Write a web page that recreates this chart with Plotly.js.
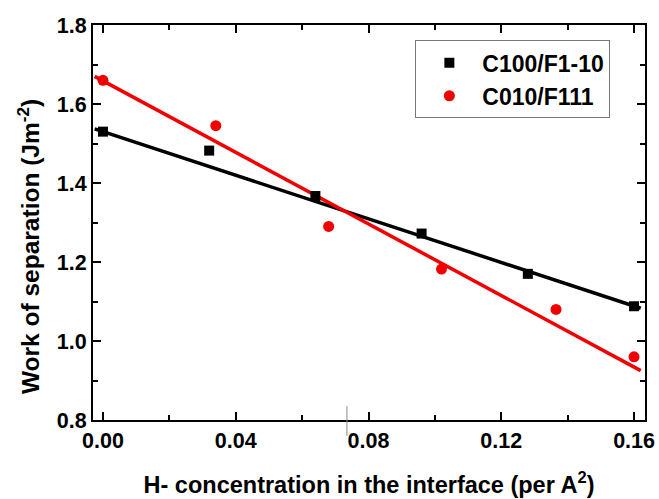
<!DOCTYPE html>
<html><head><meta charset="utf-8">
<script src="https://cdn.plot.ly/plotly-3.0.1.min.js"></script>
<style>html,body{margin:0;padding:0;background:#fff;}#chart{width:659px;height:499px;}</style>
</head><body><div id="chart"></div>
<script>
const hConc = [0.000, 0.032, 0.064, 0.096, 0.128, 0.160];
const c100Wsep = [1.530, 1.482, 1.367, 1.272, 1.170, 1.088];
const hConcRed = [0.000, 0.034, 0.068, 0.102, 0.1365, 0.160];
const c010Wsep = [1.660, 1.545, 1.290, 1.182, 1.080, 0.960];
const fitX = [-0.0025, 0.162];
const c100Fit = [1.537, 1.083];
const c010Fit = [1.670, 0.925];
const seriesNames = ['C100/F1-10', 'C010/F111'];
const xTicks = [0.00, 0.04, 0.08, 0.12, 0.16];
const xTickText = ['0.00', '0.04', '0.08', '0.12', '0.16'];
const yTicks = [0.8, 1.0, 1.2, 1.4, 1.6, 1.8];
const yTickText = ['0.8', '1.0', '1.2', '1.4', '1.6', '1.8'];
const xTitle = 'H- concentration in the interface (per A<sup>2</sup>)';
const yTitle = 'Work of separation (Jm<sup>-2</sup>)';

const FONT = 'Liberation Sans, Arial, sans-serif';
const traces = [
  {x: fitX, y: c100Fit, mode: 'lines', line: {color: '#000', width: 3.5}, showlegend: false, hoverinfo: 'skip'},
  {x: fitX, y: c010Fit, mode: 'lines', line: {color: '#f00000', width: 3.5}, showlegend: false, hoverinfo: 'skip'},
  {x: hConc, y: c100Wsep, mode: 'markers', name: seriesNames[0], marker: {symbol: 'square', size: 10, color: '#000'}},
  {x: hConcRed, y: c010Wsep, mode: 'markers', name: seriesNames[1], marker: {symbol: 'circle', size: 11, color: '#f00000'}}
];
const axisCommon = {
  showgrid: false, zeroline: false, showline: true, linecolor: '#000', linewidth: 2,
  mirror: 'allticks', ticks: 'inside', ticklen: 8, tickwidth: 2, tickcolor: '#000',
  tickfont: {family: FONT, size: 21.5, color: '#000', weight: 'bold'}
};
const layout = {
  width: 659, height: 499,
  margin: {l: 93, r: 14, t: 25, b: 79},
  paper_bgcolor: '#fff', plot_bgcolor: '#fff',
  showlegend: true,
  legend: {x: 0.584, y: 0.961, xanchor: 'left', yanchor: 'top', bordercolor: '#777', borderwidth: 1,
    font: {family: FONT, size: 23, color: '#000', weight: 'bold'}, itemwidth: 56, tracegroupgap: 0},
  xaxis: Object.assign({}, axisCommon, {
    range: [-0.003, 0.1633], tickvals: xTicks, ticktext: xTickText,
    minor: {dtick: 0.02, tick0: 0, ticks: 'inside', ticklen: 5, tickwidth: 2, tickcolor: '#000'},
    title: {text: xTitle, standoff: 25,
      font: {family: FONT, size: 23.5, color: '#000', weight: 'bold'}}
  }),
  yaxis: Object.assign({}, axisCommon, {
    range: [0.8, 1.8], tickvals: yTicks, ticktext: yTickText,
    minor: {dtick: 0.1, tick0: 0.8, ticks: 'inside', ticklen: 5, tickwidth: 2, tickcolor: '#000'}
  }),
  annotations: [
    {text: yTitle, xref: 'paper', yref: 'paper', x: -0.118, y: 0.44, xanchor: 'center', yanchor: 'middle',
      textangle: -90, showarrow: false, font: {family: FONT, size: 24.5, color: '#000', weight: 'bold'}}
  ],
  shapes: [
    {type: 'line', xref: 'x', yref: 'paper', x0: 0.0735, x1: 0.0735, y0: -0.04, y1: 0.035, line: {color: '#888', width: 1}}
  ]
};
Plotly.newPlot('chart', traces, layout, {staticPlot: true, displayModeBar: false});
</script></body></html>
